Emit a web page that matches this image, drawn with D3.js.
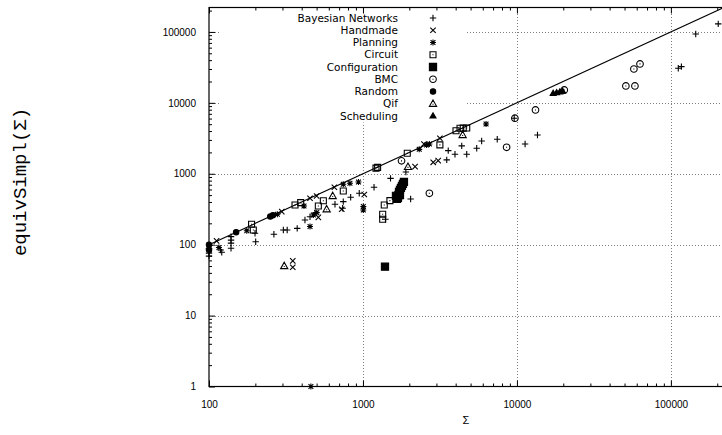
<!DOCTYPE html>
<html>
<head>
<meta charset="utf-8">
<script src="https://cdn.jsdelivr.net/npm/d3@7"></script>
<style>
  body { margin: 0; background: #fff; }
  svg { display: block; }
</style>
</head>
<body>
<svg id="chart" width="722" height="435"></svg>
<script>
// [Σ, equivSimpl(Σ)] per benchmark family
const bayesian = [[100,88],[100,76],[100,69],[119,84],[121,78],
  [139,130],[139,116],[139,105],[139,89],
  [199,145],[201,110],[264,140],[304,161],[322,161],[374,170],
  [420,223],[453,248],[488,280],[658,371],[745,404],[738,326],[832,466],[946,531],
  [1180,645],[1400,228],[1510,860],[1900,1060],[2040,441],
  [3500,1570],[3580,2120],[3960,1880],[4380,2470],[4720,1880],[5480,2290],[5900,2900],[7450,3070],
  [9600,6070],[11300,2630],[13600,3520],[111700,30800],[117000,32400],[145000,93700],[203000,130000]];
const handmade = [[112,113],[297,292],[350,59],[350,48],[453,451],[500,486],[513,243],[652,645],
  [728,316],[1020,510],[2180,1260],[2490,2630],[2860,1450],[3080,1530],[3160,3170]];
const planning = [[116,91],[176,157],[278,268],[414,351],[453,180],[476,262],[501,283],[745,711],
  [823,734],[935,766],[1005,346],[1005,308],[459,1],[2320,2210],[2590,2550],[2700,2630],[6300,5040]];
const circuit = [[189,194],[194,161],[362,363],[394,391],[513,351],[553,417],[745,572],[1215,1200],
  [1245,1230],[1375,363],[1496,418],[1343,268],[1343,228],[1940,1945],[3160,2550],[4020,4050],
  [4270,4380],[4480,4400],[4720,4420]];
const configuration = [[1390,49],[1638,487],[1663,441],[1688,456],[1701,502],[1714,554],[1739,591],
  [1765,631],[1792,673],[1819,718],[1846,766],[1739,502]];
const bmc = [[1780,1520],[2700,530],[8570,2360],[9700,6070],[13200,7940],[20300,15200],
  [51000,17300],[58400,17300],[57500,30000],[63000,35400]];
const random = [[100,100],[100,85],[150,150],[250,250],[260,260]];
const qif = [[308,50],[636,486],[581,316],[1960,1250],[4440,3520]];
const scheduling = [[17200,13600],[18100,13900],[19000,14200],[19800,14600]];

const seriesNames = ["Bayesian Networks","Handmade","Planning","Circuit","Configuration","BMC","Random","Qif","Scheduling"];
const seriesData = [bayesian, handmade, planning, circuit, configuration, bmc, random, qif, scheduling];
const seriesSymbols = ["plus","cross","star","boxdot","box","circledot","disc","triangledot","trianglefill"];

const xTicks = [100, 1000, 10000, 100000];
const yTicks = [1, 10, 100, 1000, 10000, 100000];
const xDomain = [100, 218000];
const yDomain = [1, 221000];

const svg = d3.select("#chart");
const plot = { left: 209, right: 723, top: 7.5, bottom: 386.5 };
const x = d3.scaleLog().domain(xDomain).range([plot.left, plot.right]);
const y = d3.scaleLog().domain(yDomain).range([plot.bottom, plot.top]);

function minorTicks(lo, hi) {
  const out = [];
  for (let d = lo; d < hi; d *= 10)
    for (let k = 2; k <= 9; k++) if (d * k <= hi) out.push(d * k);
  return out;
}
const xMinor = minorTicks(100, xDomain[1]);
const yMinor = minorTicks(1, yDomain[1]);

// dotted grid at the major decades
const grid = svg.append("g").attr("stroke", "#808080").attr("stroke-width", 1)
  .attr("stroke-dasharray", "1,2").attr("shape-rendering", "crispEdges");
grid.selectAll("line.gx").data(xTicks.filter(d => d > 100)).join("line")
  .attr("x1", d => Math.round(x(d)) + 0.5).attr("x2", d => Math.round(x(d)) + 0.5)
  .attr("y1", plot.top).attr("y2", plot.bottom);
grid.selectAll("line.gy").data(yTicks.filter(d => d > 1)).join("line")
  .attr("y1", d => Math.round(y(d)) + 0.5).attr("y2", d => Math.round(y(d)) + 0.5)
  .attr("x1", plot.left).attr("x2", plot.right);

// key background
svg.append("rect").attr("x", 221).attr("y", 8.5).attr("width", 245).attr("height", 114).attr("fill", "#fff");

// axes
const fmt = d3.format("d");
const font = "'Liberation Sans', Arial, sans-serif";
function styleAxis(g) {
  g.select(".domain").remove();
  g.selectAll("line").attr("stroke", "#000");
  g.selectAll("text").attr("font-family", font).attr("font-size", 10).attr("fill", "#000");
}
svg.append("g").attr("transform", `translate(0,${plot.bottom})`)
  .call(d3.axisBottom(x).tickValues(xTicks).tickFormat(fmt).tickSizeInner(-6).tickSizeOuter(0).tickPadding(14))
  .call(styleAxis);
svg.append("g").attr("transform", `translate(0,${plot.bottom})`)
  .call(d3.axisBottom(x).tickValues(xMinor).tickFormat("").tickSizeInner(-3).tickSizeOuter(0))
  .call(styleAxis);
svg.append("g").attr("transform", `translate(0,${plot.top})`)
  .call(d3.axisTop(x).tickValues(xTicks).tickFormat("").tickSizeInner(-6).tickSizeOuter(0))
  .call(styleAxis);
svg.append("g").attr("transform", `translate(0,${plot.top})`)
  .call(d3.axisTop(x).tickValues(xMinor).tickFormat("").tickSizeInner(-3).tickSizeOuter(0))
  .call(styleAxis);
svg.append("g").attr("transform", `translate(${plot.left},0)`)
  .call(d3.axisLeft(y).tickValues(yTicks).tickFormat(fmt).tickSizeInner(-6).tickSizeOuter(0).tickPadding(13))
  .call(styleAxis);
svg.append("g").attr("transform", `translate(${plot.left},0)`)
  .call(d3.axisLeft(y).tickValues(yMinor).tickFormat("").tickSizeInner(-3).tickSizeOuter(0))
  .call(styleAxis);

// plot border
svg.append("rect").attr("x", plot.left).attr("y", plot.top)
  .attr("width", plot.right - plot.left).attr("height", plot.bottom - plot.top)
  .attr("fill", "none").attr("stroke", "#000").attr("stroke-width", 1.2);

// reference line equivSimpl(Σ) = Σ
const lineEnd = Math.min(xDomain[1], yDomain[1]);
svg.append("path")
  .attr("d", d3.line().x(d => x(d)).y(d => y(d))([100, lineEnd]))
  .attr("stroke", "#000").attr("stroke-width", 1.1).attr("fill", "none");

// point symbols
function symbolPath(type) {
  switch (type) {
    case "plus": return "M-3.2,0H3.2M0,-3.2V3.2";
    case "cross": return "M-2.7,-2.7L2.7,2.7M-2.7,2.7L2.7,-2.7";
    case "star": return "M-3,0H3M0,-3V3M-2.4,-2.4L2.4,2.4M-2.4,2.4L2.4,-2.4";
    case "boxdot": return "M-3,-3H3V3H-3Z M-0.5,0H0.5";
    case "box": return "M-3.6,-3.6H3.6V3.6H-3.6Z";
    case "circledot": return "M3.3,0A3.3,3.3 0 1,1 -3.3,0A3.3,3.3 0 1,1 3.3,0Z M-0.5,0H0.5";
    case "disc": return "M2.7,0A2.7,2.7 0 1,1 -2.7,0A2.7,2.7 0 1,1 2.7,0Z";
    case "triangledot": return "M0,-3.8L3.6,2.6H-3.6Z M-0.5,0.5H0.5";
    case "trianglefill": return "M0,-3.2L3,2H-3Z";
  }
}
const filled = { box: true, disc: true, trianglefill: true };
function drawSymbol(g, type) {
  g.append("path").attr("d", symbolPath(type))
    .attr("fill", filled[type] ? "#000" : "none")
    .attr("stroke", "#000").attr("stroke-width", 1.1);
}

seriesData.forEach((data, i) => {
  const g = svg.append("g");
  data.forEach(d => {
    const p = g.append("g").attr("transform", `translate(${x(d[0])},${y(d[1])})`);
    drawSymbol(p, seriesSymbols[i]);
  });
});

// key
seriesNames.forEach((name, i) => {
  const cy = 18 + i * 12.25;
  svg.append("text").attr("x", 398).attr("y", cy).attr("dy", "0.35em")
    .attr("text-anchor", "end").attr("font-family", "'DejaVu Sans', sans-serif").attr("font-size", 10.5)
    .text(name);
  drawSymbol(svg.append("g").attr("transform", `translate(433,${cy})`), seriesSymbols[i]);
});

// axis titles
svg.append("text").attr("x", 466).attr("y", 424).attr("text-anchor", "middle")
  .attr("font-family", font).attr("font-size", 11).text("Σ");
svg.append("text").attr("transform", "translate(26,182) rotate(-90)")
  .attr("text-anchor", "middle").attr("font-family", "'Liberation Mono', 'DejaVu Sans Mono', monospace")
  .attr("font-size", 19).text("equivSimpl(Σ)");
</script>
</body>
</html>
